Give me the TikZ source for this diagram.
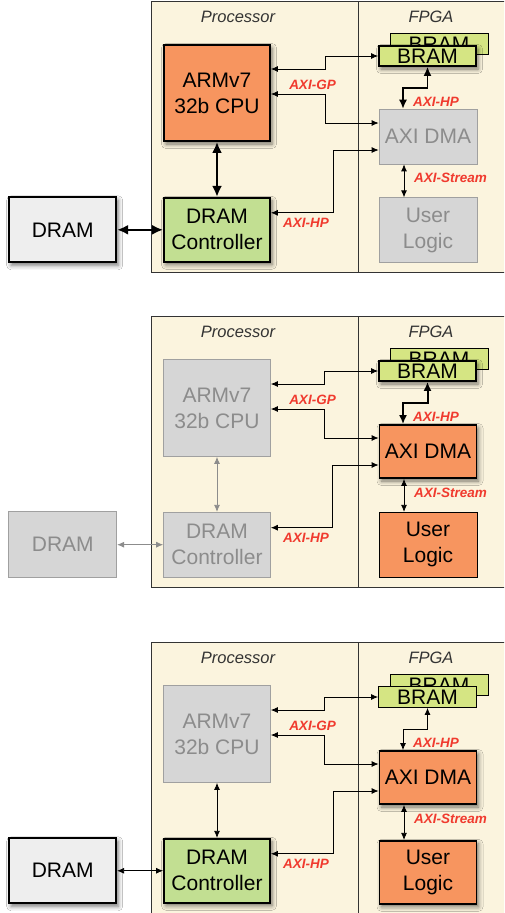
\documentclass[tikz,border=0pt]{standalone}
\usepackage{fontspec}
\setmainfont{Liberation Sans}
\usepackage{xcolor}
\usepackage{tikz}
\usetikzlibrary{arrows.meta,positioning,shadows.blur}
\definecolor{Tangerine}{HTML}{F7955F}
\definecolor{Leaf}{HTML}{C2DF92}
\definecolor{Lime}{HTML}{D5E583}
\definecolor{Cream}{HTML}{FBF4DE}
\definecolor{Ash}{HTML}{D6D6D6}
\definecolor{AshLine}{HTML}{A0A0A0}
\definecolor{AshText}{HTML}{8C8C8C}
\definecolor{Chalk}{HTML}{EEEEEE}
\definecolor{AxiRed}{HTML}{F03A2E}
\definecolor{Frame}{HTML}{333333}

\tikzset{
  blk/.style={draw,align=center,inner sep=0pt,font=\fontsize{21}{26}\selectfont},
  hot/.style={line width=1.8pt,draw=black,text=black,
              blur shadow={shadow xshift=2pt,shadow yshift=-3pt,shadow blur radius=4.5pt,shadow opacity=55}},
  calm/.style={line width=0.8pt,draw=black,text=black},
  idle/.style={line width=0.7pt,draw=AshLine,fill=Ash,text=AshText},
  lbl/.style={text=AxiRed,inner sep=0pt,font=\fontsize{13.5}{15}\selectfont\bfseries\itshape},
  side/.style={text=Frame,inner sep=0pt,font=\fontsize{16.5}{18}\selectfont\itshape},
  link/.style={{Latex[length=7pt,width=6pt]}-{Latex[length=7pt,width=6pt]},line width=0.8pt},
  dimlink/.style={link,draw=AshText},
  fat/.style={{Latex[length=11pt,width=10pt]}-{Latex[length=11pt,width=10pt]},line width=2.4pt},
  busy/.style={{Latex[length=9pt,width=8pt]}-{Latex[length=9pt,width=8pt]},line width=#1},
}

\begin{document}
\begin{tikzpicture}[x=1pt,y=-1pt]
  \clip (0,0) rectangle (504,913);
  \fill[white] (0,0) rectangle (504,913);

  % panel 1: processor only
  \begin{scope}
    \draw[Frame,fill=Cream,line width=0.8pt] (151,1) rectangle (510,272);
    \draw[Frame,line width=0.8pt] (358,1) -- (358,272);
    \node[side] (proc1) at (238,17) {Processor};
    \node[side] (fpga1) at (431,17) {FPGA};
    \node[blk,hot,fill=Tangerine,minimum width=106pt,minimum height=96pt] (cpu1) at (217,93) {ARMv7\\32b CPU};
    \node[blk,hot,fill=Leaf,minimum width=106pt,minimum height=64pt,below=55pt of cpu1] (dc1) {DRAM\\Controller};
    \node[blk,hot,fill=Chalk,minimum width=107pt,minimum height=65pt,left=46pt of dc1] (dram1) {DRAM};
    \node[blk,calm,fill=Lime,minimum width=98pt,minimum height=21pt] (bramb1) at (439,44) {BRAM};
    \node[blk,hot,fill=Lime,minimum width=97pt,minimum height=20pt] (bram1) at (427.5,56) {BRAM};
    \node[blk,idle,minimum width=98pt,minimum height=55pt] (dma1) at (428,136.5) {AXI DMA};
    \node[blk,idle,minimum width=98pt,minimum height=65pt,below=33pt of dma1] (ul1) {User\\Logic};
    \draw[link] ([yshift=24pt]cpu1.east) -- ++(54,0) |- (bram1.west);
    \draw[link] ([yshift=-1pt]cpu1.east) -- ++(54,0) |- ([yshift=13.5pt]dma1.west);
    \draw[link] ([yshift=17pt]dc1.east) -- ++(62,0) |- ([yshift=-13.5pt]dma1.west);
    \draw[busy=1.3pt] (bram1.south) -- ++(0,21) -| ([xshift=-25pt]dma1.north);
    \draw[link] ([xshift=-24pt]dma1.south) -- ([xshift=-24pt]ul1.north);
    \draw[fat] (cpu1) -- (dc1);
    \draw[fat] (dram1) -- (dc1);
    \node[lbl] (gp1) at (312.5,85) {AXI-GP};
    \node[lbl] (hpa1) at (306,222.5) {AXI-HP};
    \node[lbl] (hpb1) at (436,101.5) {AXI-HP};
    \node[lbl] (st1) at (450.5,178) {AXI-Stream};
  \end{scope}

  % panel 2: fpga only
  \begin{scope}[yshift=-315pt]
    \draw[Frame,fill=Cream,line width=0.8pt] (151,1) rectangle (510,272);
    \draw[Frame,line width=0.8pt] (358,1) -- (358,272);
    \node[side] (proc2) at (238,17) {Processor};
    \node[side] (fpga2) at (431,17) {FPGA};
    \node[blk,idle,minimum width=107pt,minimum height=97pt] (cpu2) at (217,93) {ARMv7\\32b CPU};
    \node[blk,idle,minimum width=107pt,minimum height=65pt,below=55pt of cpu2] (dc2) {DRAM\\Controller};
    \node[blk,idle,minimum width=108pt,minimum height=66pt,left=46pt of dc2] (dram2) {DRAM};
    \node[blk,calm,fill=Lime,minimum width=98pt,minimum height=21pt] (bramb2) at (439,44) {BRAM};
    \node[blk,hot,fill=Lime,minimum width=97pt,minimum height=20pt] (bram2) at (427.5,56) {BRAM};
    \node[blk,hot,fill=Tangerine,minimum width=97pt,minimum height=53pt] (dma2) at (428,136.5) {AXI DMA};
    \node[blk,calm,fill=Tangerine,minimum width=98pt,minimum height=65pt,below=33pt of dma2] (ul2) {User\\Logic};
    \draw[link] ([yshift=24pt]cpu2.east) -- ++(54,0) |- (bram2.west);
    \draw[link] ([yshift=-1pt]cpu2.east) -- ++(54,0) |- ([yshift=13.5pt]dma2.west);
    \draw[link] ([yshift=17pt]dc2.east) -- ++(62,0) |- ([yshift=-13.5pt]dma2.west);
    \draw[busy=2pt] (bram2.south) -- ++(0,21) -| ([xshift=-25pt]dma2.north);
    \draw[link] ([xshift=-24pt]dma2.south) -- ([xshift=-24pt]ul2.north);
    \draw[dimlink] (cpu2) -- (dc2);
    \draw[dimlink] (dram2) -- (dc2);
    \node[lbl] (gp2) at (312.5,85) {AXI-GP};
    \node[lbl] (hpa2) at (306,222.5) {AXI-HP};
    \node[lbl] (hpb2) at (436,101.5) {AXI-HP};
    \node[lbl] (st2) at (450.5,178) {AXI-Stream};
  \end{scope}

  % panel 3: fpga and dram
  \begin{scope}[yshift=-641pt]
    \draw[Frame,fill=Cream,line width=0.8pt] (151,1) rectangle (510,272);
    \draw[Frame,line width=0.8pt] (358,1) -- (358,272);
    \node[side] (proc3) at (238,17) {Processor};
    \node[side] (fpga3) at (431,17) {FPGA};
    \node[blk,idle,minimum width=107pt,minimum height=97pt] (cpu3) at (217,93) {ARMv7\\32b CPU};
    \node[blk,hot,fill=Leaf,minimum width=106pt,minimum height=64pt,below=55pt of cpu3] (dc3) {DRAM\\Controller};
    \node[blk,hot,fill=Chalk,minimum width=107pt,minimum height=65pt,left=46pt of dc3] (dram3) {DRAM};
    \node[blk,calm,fill=Lime,minimum width=98pt,minimum height=21pt] (bramb3) at (439,44) {BRAM};
    \node[blk,calm,fill=Lime,minimum width=98pt,minimum height=21pt] (bram3) at (427.5,56) {BRAM};
    \node[blk,hot,fill=Tangerine,minimum width=97pt,minimum height=53pt] (dma3) at (428,136.5) {AXI DMA};
    \node[blk,hot,fill=Tangerine,minimum width=97pt,minimum height=63pt,below=35pt of dma3] (ul3) {User\\Logic};
    \draw[link] ([yshift=24pt]cpu3.east) -- ++(54,0) |- (bram3.west);
    \draw[link] ([yshift=-1pt]cpu3.east) -- ++(54,0) |- ([yshift=13.5pt]dma3.west);
    \draw[link] ([yshift=17pt]dc3.east) -- ++(62,0) |- ([yshift=-13.5pt]dma3.west);
    \draw[link] (bram3.south) -- ++(0,21) -| ([xshift=-25pt]dma3.north);
    \draw[link] ([xshift=-24pt]dma3.south) -- ([xshift=-24pt]ul3.north);
    \draw[link] (cpu3) -- (dc3);
    \draw[link] (dram3) -- (dc3);
    \node[lbl] (gp3) at (312.5,85) {AXI-GP};
    \node[lbl] (hpa3) at (306,222.5) {AXI-HP};
    \node[lbl] (hpb3) at (436,101.5) {AXI-HP};
    \node[lbl] (st3) at (450.5,178) {AXI-Stream};
  \end{scope}
\end{tikzpicture}
\end{document}
